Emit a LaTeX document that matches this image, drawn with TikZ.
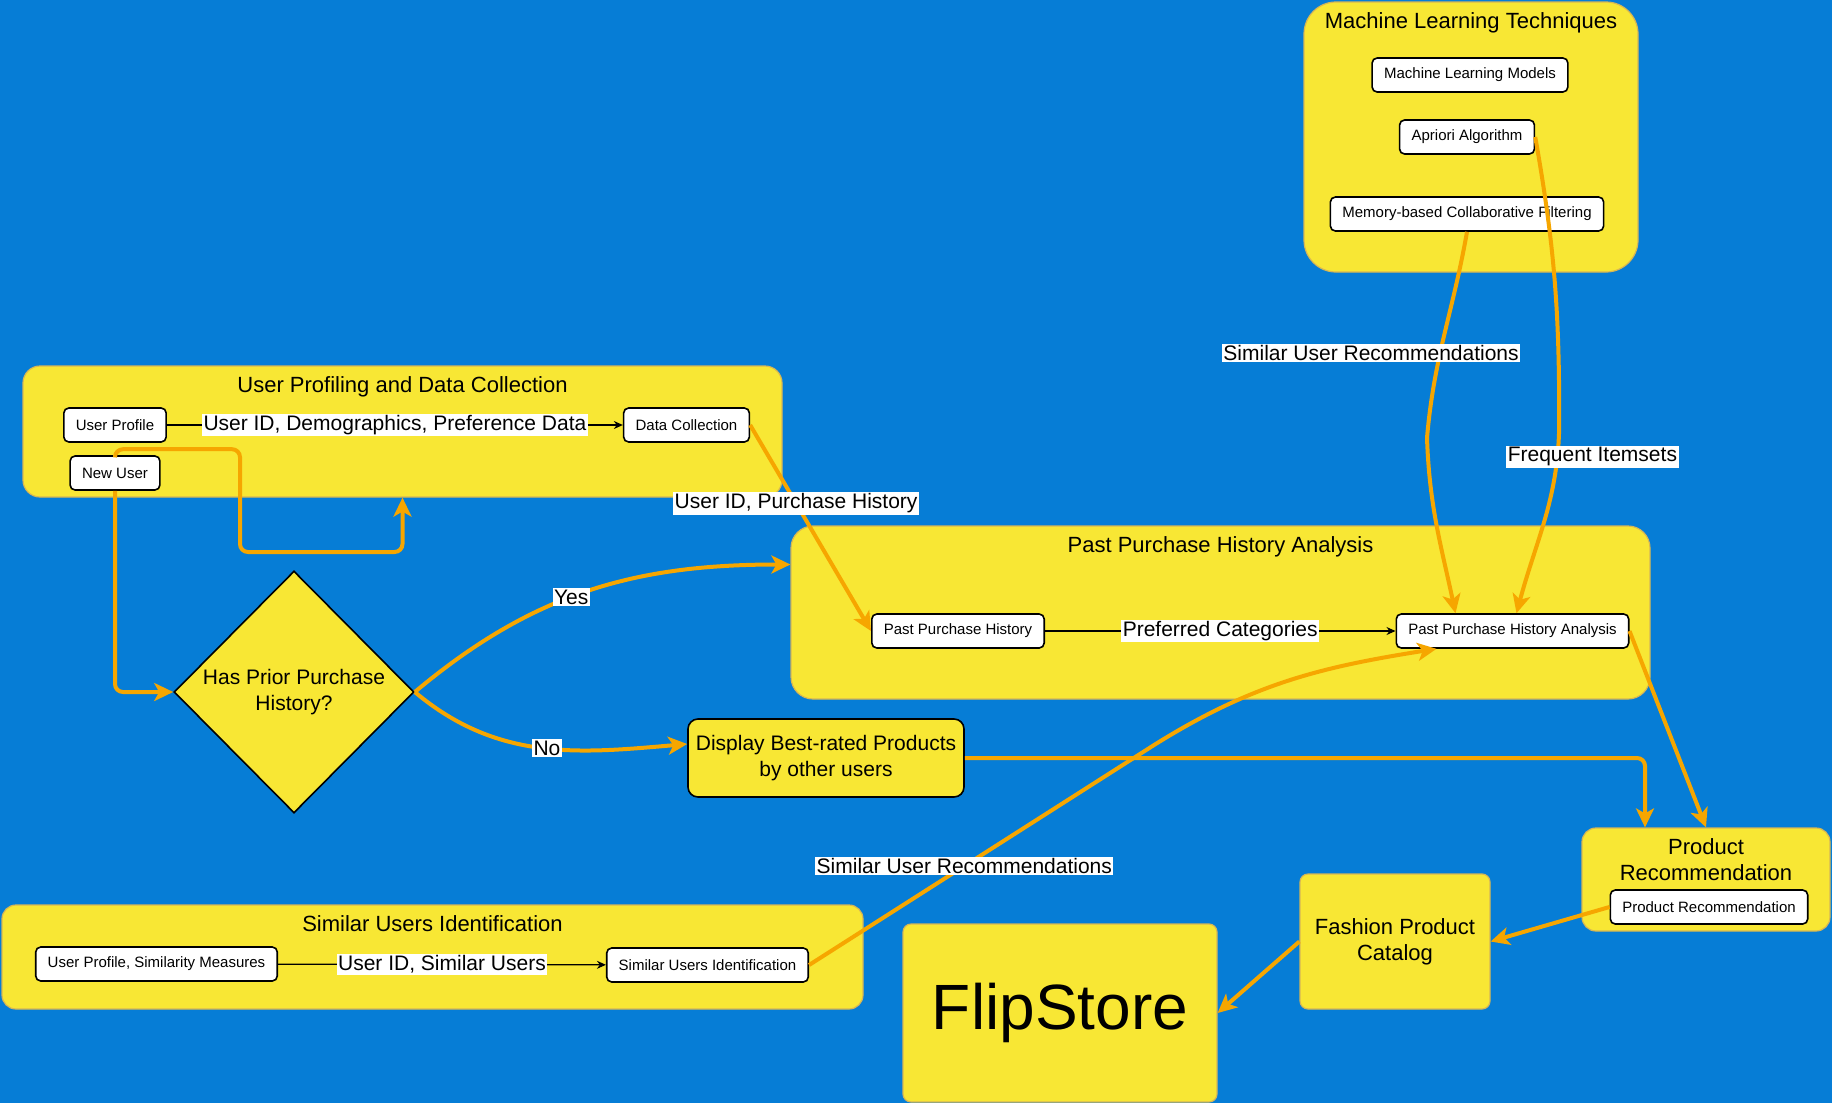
\documentclass[tikz,border=0pt]{standalone}
\usepackage{fontspec}
\setmainfont{Liberation Sans}
\usetikzlibrary{arrows.meta, positioning, shapes.geometric}

\definecolor{bgblue}{RGB}{6,125,214}
\definecolor{grpfill}{RGB}{248,231,52}
\definecolor{grpedge}{RGB}{214,182,86}
\definecolor{floworange}{RGB}{246,166,0}

\begin{document}
\begin{tikzpicture}[
  x=1pt, y=1pt,
  group/.style={draw=grpedge, fill=grpfill, line width=1.2pt},
  grptitle/.style={inner sep=0pt, align=center, font=\fontsize{22}{26}\selectfont},
  box/.style={draw, fill=white, line width=1.6pt, rounded corners=5pt, inner xsep=12pt, minimum height=34pt, font=\fontsize{15}{18}\selectfont},
  ybox/.style={draw, fill=grpfill, line width=1.6pt, align=center, font=\fontsize{21}{26}\selectfont},
  decision/.style={diamond, draw, fill=grpfill, line width=1.6pt, inner sep=0pt, minimum width=240pt, minimum height=242pt, align=center, font=\fontsize{21}{26}\selectfont},
  lbl/.style={fill=white, inner sep=1.5pt, font=\fontsize{21}{25}\selectfont},
  link/.style={-{Stealth[length=9pt, width=8pt]}, line width=1.2pt},
  flow/.style={-{Stealth[length=19pt, width=18pt, inset=5pt]}, draw=floworange, line width=4pt}
]
\fill[bgblue] (0,0) rectangle (1832,-1103);
\useasboundingbox (0,0) rectangle (1832,-1103);

\node[group, rounded corners=32pt, minimum width=334pt, minimum height=270pt] (mlt) at (1471,-137) {};
\node[grptitle, below=10.5pt of mlt.north] (mltt) {Machine Learning Techniques};
\node[box] (mlmod) at (1470,-75) {Machine Learning Models};
\node[box] (apriori) at (1467,-137) {Apriori Algorithm};
\node[box] (mcf) at (1467,-214) {Memory-based Collaborative Filtering};

\node[group, rounded corners=17pt, minimum width=759pt, minimum height=131pt] (upd) at (402.5,-431.5) {};
\node[grptitle, below=10.5pt of upd.north] (updt) {User Profiling and Data Collection};
\node[box] (uprof) at (115,-425) {User Profile};
\node[box] (newuser) at (115,-473) {New User};
\node[box] (datacol) at (686.5,-425) {Data Collection};

\node[group, rounded corners=22pt, minimum width=859pt, minimum height=173pt] (ppa) at (1220.5,-612.5) {};
\node[grptitle, below=10.5pt of ppa.north] (ppat) {Past Purchase History Analysis};
\node[box] (pph) at (958,-631) {Past Purchase History};
\node[box] (ppha) at (1512.5,-631) {Past Purchase History Analysis};

\node[decision] (prior) at (294,-692) {Has Prior Purchase\\History?};
\node[ybox, rounded corners=10pt, minimum width=276pt, minimum height=78pt] (best) at (826,-758) {Display Best-rated Products\\by other users};

\node[group, rounded corners=14pt, minimum width=248pt, minimum height=103pt] (prodrec) at (1706,-879.5) {};
\node[grptitle, below=10.5pt of prodrec.north] (prodrect) {Product\\Recommendation};
\node[box] (prodrecbox) at (1709,-907) {Product Recommendation};

\node[group, rounded corners=8pt, minimum width=190pt, minimum height=135pt, align=center, font=\fontsize{22}{26}\selectfont] (catalog) at (1395,-941.5) {Fashion Product\\Catalog};
\node[group, rounded corners=8pt, minimum width=314pt, minimum height=178pt, font=\fontsize{64}{70}\selectfont] (store) at (1060,-1013) {FlipStore};

\node[group, rounded corners=14pt, minimum width=861pt, minimum height=104pt] (sui) at (432.5,-957) {};
\node[grptitle, below=10.5pt of sui.north] (suit) {Similar Users Identification};
\node[box] (upsm) at (156.5,-964) {User Profile, Similarity Measures};
\node[box] (suibox) at (707.5,-965) {Similar Users Identification};

\coordinate (loopturn) at (240,-552);

\draw[link] (uprof) -- node[lbl] {User ID, Demographics, Preference Data} (datacol);
\draw[link] (pph) -- node[lbl] {Preferred Categories} (ppha);
\draw[link] (upsm) -- node[lbl] {User ID, Similar Users} (suibox);

\draw[flow, rounded corners=8pt] (newuser.south) |- (prior.west);
\draw[flow, rounded corners=8pt] (newuser.north) -- ++(0,6) -| (loopturn) -| (upd.south);
\draw[flow] (datacol.east) -- node[lbl, pos=0.38] {User ID, Purchase History} (pph.west);
\draw[flow] (prior.east) to[out=40, in=180] node[lbl, pos=0.45] {Yes} ([yshift=48pt]ppa.west);
\draw[flow] (prior.east) to[out=-40, in=185] node[lbl, pos=0.52] {No} ([yshift=14pt]best.west);
\draw[flow, rounded corners=8pt] (best.east) -| ([xshift=-61pt]prodrec.north);
\draw[flow] (ppha.east) -- (prodrec.north);
\draw[flow] (mcf.south) to[out=-100, in=85] node[lbl, pos=0.6, xshift=-69pt] {Similar User Recommendations} ++(-40,-206) to[out=-88, in=102] ([xshift=-57pt]ppha.north);
\draw[flow] (apriori.east) to[out=-80, in=90] ++(24,-283) to[out=-90, in=75] node[lbl, pos=0.17, xshift=35pt] {Frequent Itemsets} ([xshift=4pt]ppha.north);
\draw[flow] (suibox.east) -- node[lbl, pos=0.45] {Similar User Recommendations} ++(345,220) to[out=32, in=189] ([xshift=-76pt]ppha.south);
\draw[flow] (prodrecbox.west) -- (catalog.east);
\draw[flow] (catalog.west) -- (store.east);
\end{tikzpicture}
\end{document}
